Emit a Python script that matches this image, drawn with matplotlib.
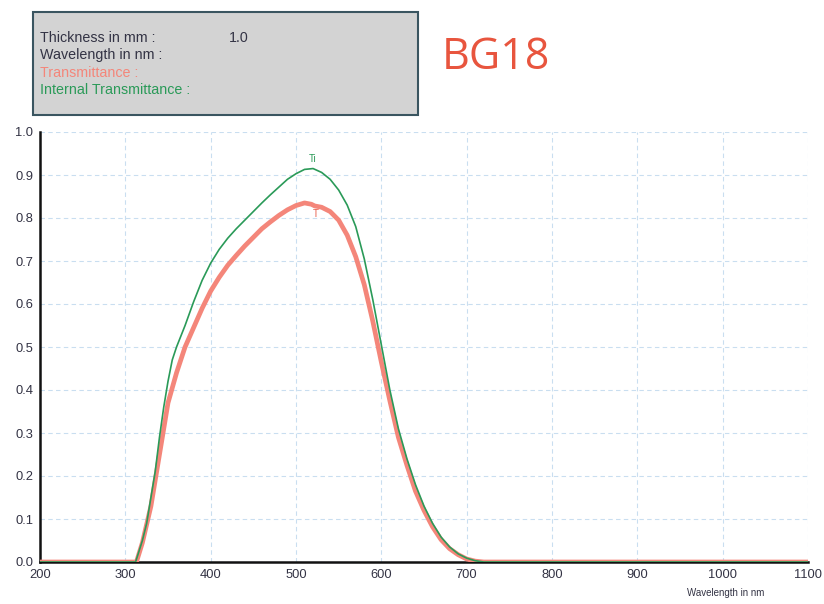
import matplotlib
matplotlib.use('Agg')
import matplotlib.pyplot as plt
from matplotlib.patches import Rectangle

# Colours
GREEN = '#2a9a58'
RED = '#f4867a'
GRID = '#c9def0'
TEXT = '#333344'
BOX = '#d3d3d3'

# Spectral data (wavelength in nm)
wl_ti = [200, 300, 312, 320, 325, 330, 335, 340, 345, 350, 355, 360, 370, 380, 390,
         400, 410, 420, 430, 440, 450, 460, 470, 480, 490, 500, 510, 520, 530, 540,
         550, 560, 570, 580, 590, 600, 610, 620, 630, 640, 650, 660, 670, 680, 690,
         700, 710, 720, 1100]
ti = [0.0, 0.0, 0.0, 0.05, 0.09, 0.15, 0.21, 0.29, 0.36, 0.42, 0.47, 0.50, 0.55, 0.605, 0.655,
      0.695, 0.727, 0.753, 0.775, 0.795, 0.815, 0.835, 0.854, 0.872, 0.89, 0.903, 0.913, 0.915,
      0.906, 0.89, 0.865, 0.83, 0.78, 0.705, 0.61, 0.505, 0.40, 0.31, 0.24, 0.18, 0.13, 0.09,
      0.058, 0.035, 0.019, 0.009, 0.003, 0.0, 0.0]

wl_t = [200, 300, 313, 320, 330, 340, 350, 360, 370, 380, 390, 400, 410, 420, 430, 440,
        450, 460, 470, 480, 490, 500, 510, 518, 522, 530, 540, 550, 560, 570, 580, 590,
        600, 610, 620, 630, 640, 650, 660, 670, 680, 690, 700, 710, 720, 1100]
t = [0.0, 0.0, 0.0, 0.045, 0.13, 0.25, 0.37, 0.44, 0.50, 0.545, 0.59, 0.63, 0.662, 0.69,
     0.713, 0.735, 0.755, 0.775, 0.791, 0.806, 0.819, 0.829, 0.835, 0.832, 0.828, 0.825,
     0.815, 0.795, 0.76, 0.71, 0.645, 0.56, 0.465, 0.375, 0.29, 0.225, 0.165, 0.12, 0.082,
     0.052, 0.031, 0.017, 0.007, 0.002, 0.0, 0.0]

xticks = [200, 300, 400, 500, 600, 700, 800, 900, 1000, 1100]
yticks = [0.0, 0.1, 0.2, 0.3, 0.4, 0.5, 0.6, 0.7, 0.8, 0.9, 1.0]

info_labels = ['Thickness in mm :', 'Wavelength in nm :', 'Transmittance :',
               'Internal Transmittance :']
info_colors = [TEXT, TEXT, RED, GREEN]

plt.rcParams['font.family'] = ['Liberation Sans', 'DejaVu Sans']

fig = plt.figure(figsize=(8.24, 6.04), dpi=100)
fig.patch.set_facecolor('white')
ax = fig.add_axes([40 / 824, 42 / 604, 768 / 824, 430 / 604])

ax.plot(wl_t, t, color=RED, linewidth=3.4, solid_capstyle='round', zorder=3)
ax.plot(wl_ti, ti, color=GREEN, linewidth=1.2, zorder=4)

ax.text(520, 0.925, 'Ti', color=GREEN, fontsize=7, ha='center', va='bottom')
ax.text(523, 0.82, 'T', color='#e8604e', fontsize=7, ha='center', va='top')

ax.set_xlim(200, 1100)
ax.set_ylim(0, 1.0)
ax.set_xticks(xticks)
ax.set_yticks(yticks)
ax.set_yticklabels([f'{v:.1f}' for v in yticks])
ax.grid(True, color=GRID, linestyle=(0, (4, 3)), linewidth=0.8)
ax.set_axisbelow(True)
ax.tick_params(length=0, labelsize=9.3, labelcolor=TEXT, pad=5)
for side in ['top', 'right']:
    ax.spines[side].set_visible(False)
for side in ['left', 'bottom']:
    ax.spines[side].set_linewidth(1.8)
    ax.spines[side].set_color('#111111')

fig.text(764 / 824, 1 - 593 / 604, 'Wavelength in nm', ha='right',
         va='center', fontsize=7, color=TEXT)

# Info box at the top
fig.patches.append(Rectangle((33 / 824, 1 - 115 / 604), 385 / 824, 103 / 604,
                             transform=fig.transFigure, facecolor=BOX,
                             edgecolor='#3a5560', linewidth=1.5))
for i, (lab, col) in enumerate(zip(info_labels, info_colors)):
    fig.text(40 / 824, 1 - (38 + 17.3 * i) / 604, lab, color=col, fontsize=10.3,
             va='center', ha='left')
fig.text(229 / 824, 1 - 38 / 604, '1.0', color=TEXT, fontsize=10.3, va='center')

fig.text(442 / 824, 1 - 58 / 604, 'BG18', color='#e8553e', fontsize=31,
         family=['Open Sans', 'DejaVu Sans'], va='center', ha='left')

plt.savefig('out.png', dpi=100, facecolor='white')
